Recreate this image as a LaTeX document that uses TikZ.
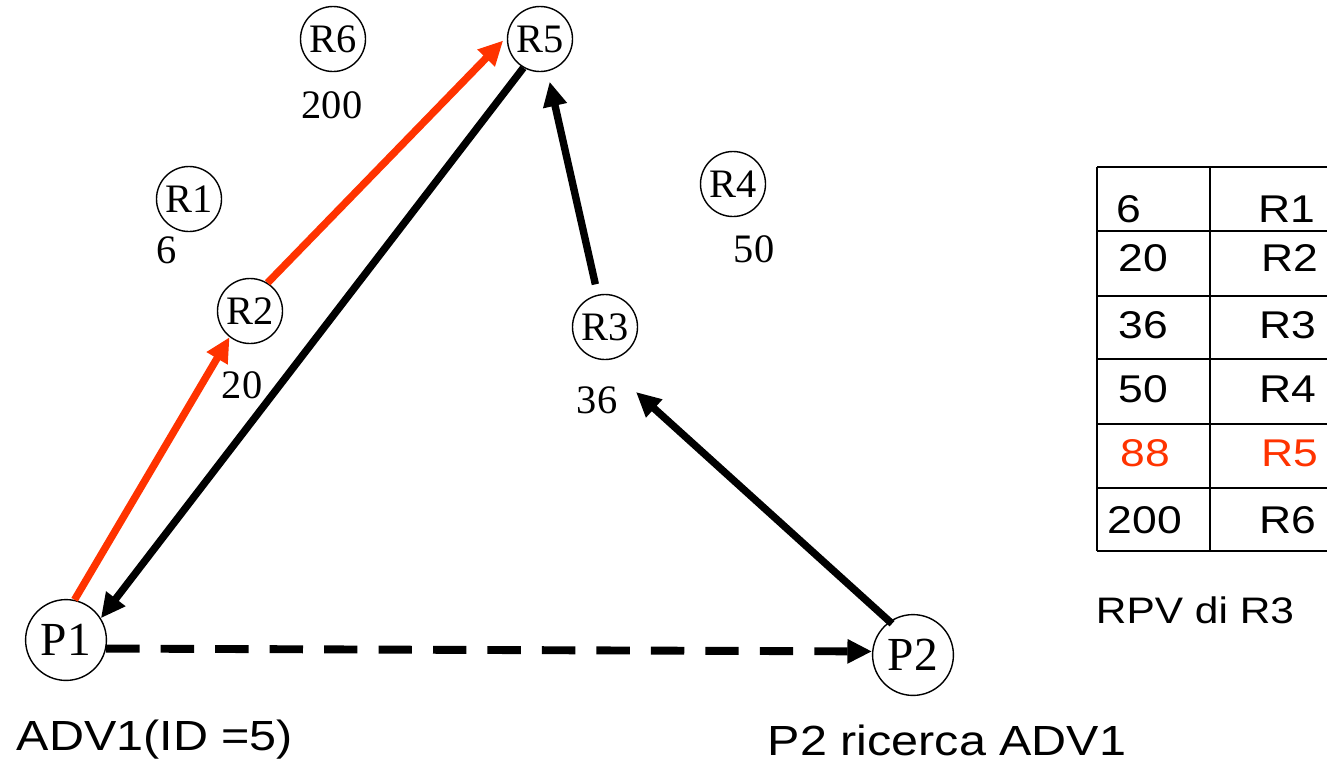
\documentclass[tikz,border=0pt]{standalone}
\usepackage{fontspec}
\setmainfont{Liberation Serif}
\newfontfamily\handfont[FakeStretch=1.15]{Liberation Sans}
\usepackage{tikz}
\usetikzlibrary{arrows.meta,positioning}
\definecolor{advred}{RGB}{255,51,0}

\begin{document}
\begin{tikzpicture}[x=0.02cm,y=-0.02cm,every node/.style={font=\fontsize{23}{26}\selectfont},
  rtr/.style={draw,circle,line width=0.8pt,minimum size=37pt,inner sep=0pt},
  peer/.style={draw,circle,line width=0.8pt,minimum size=46pt,inner sep=0pt,font=\fontsize{27}{30}\selectfont},
  hop/.style={line width=4.2pt,-{Triangle[length=14pt,width=13pt]}},
  tab/.style={font=\handfont\fontsize{22}{24}\selectfont}]
  \useasboundingbox (0,0) rectangle (1327,768);
  % routers with their ids
  \node[rtr] (R6) at (333,39) {R6};
  \node (l200) at (332,105) {200};
  \node[rtr] (R5) at (540,39) {R5};
  \node[rtr] (R1) at (189,199) {R1};
  \node (l6) at (167,250) {6};
  \node[rtr] (R2) at (250,311) {R2};
  \node (l20) at (242,385) {20};
  \node[rtr] (R4) at (733,184) {R4};
  \node (l50) at (754,249) {50};
  \node[rtr] (R3) at (605,327) {R3};
  \node (l36) at (597,400) {36};
  \node[peer] (P1) at (66,640) {P1};
  \node[peer] (P2) at (913,655) {P2};
  \coordinate (q3) at (636,392);
  % publish path (red) and lookup path (black)
  \draw[hop,advred] (P1.78) -- (R2.232);
  \draw[hop,advred,shorten >=3pt] (R2.58) -- (R5.176);
  \draw[hop] (R5.240) -- (P1.32);
  \draw[hop,shorten <=6pt,shorten >=6pt] (R3) -- (R5);
  \draw[hop,shorten <=-2pt] (P2.125) -- (q3);
  \draw[line width=4.5pt,dash pattern=on 19pt off 12pt,-{Triangle[length=14pt,width=13pt]}] (P1.-12) -- (P2.175);
  % RPV table of R3
  \draw[line width=1.1pt] (1097,167) -- (1330,167) (1097,231) -- (1330,231) (1097,296) -- (1330,296)
    (1097,359) -- (1330,359) (1097,424) -- (1330,424) (1097,488) -- (1330,488) (1097,551) -- (1330,551)
    (1097,167) -- (1097,551) (1210,167) -- (1210,551);
  \node[tab] (t1) at (1129,209) {6};
  \node[tab] (n1) at (1287,209) {R1};
  \node[tab] (t2) at (1143,258) {20};
  \node[tab] (n2) at (1290,258) {R2};
  \node[tab] (t3) at (1143,325) {36};
  \node[tab] (n3) at (1288,325) {R3};
  \node[tab] (t4) at (1143,389) {50};
  \node[tab] (n4) at (1288,389) {R4};
  \node[tab,advred] (t5) at (1145,453) {88};
  \node[tab,advred] (n5) at (1290,453) {R5};
  \node[tab] (t6) at (1145,520) {200};
  \node[tab] (n6) at (1288,520) {R6};
  \node[tab,font=\handfont\fontsize{21}{24}\selectfont] (rpv) at (1195,610) {RPV di R3};
  \node[tab,font=\handfont\fontsize{24}{26}\selectfont] (adv) at (155,740) {ADV1(ID =5)};
  \node[tab,font=\handfont\fontsize{24}{26}\selectfont] (query) at (947,740) {P2 ricerca ADV1};
\end{tikzpicture}
\end{document}
